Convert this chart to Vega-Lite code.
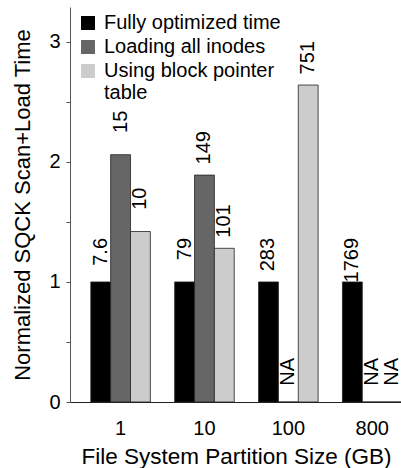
{
  "$schema": "https://vega.github.io/schema/vega-lite/v6.json",
  "width": 332,
  "height": 395,
  "padding": {"left": 11, "top": 7, "right": 0, "bottom": 0},
  "background": "white",
  "config": {
    "view": {"stroke": null},
    "font": "Liberation Sans",
    "axis": {"labelFont": "Liberation Sans", "titleFont": "Liberation Sans", "labelColor": "black", "titleColor": "black", "titleFontWeight": "normal", "grid": false},
    "legend": {"labelFont": "Liberation Sans"},
    "style": {"guide-label": {"lineHeight": 22}}
  },
  "data": {
    "values": [
      {"size": "1", "method": "Fully optimized time", "value": 1, "label": "7.6"},
      {"size": "1", "method": "Loading all inodes", "value": 2.06, "label": "15"},
      {"size": "1", "method": "Using block pointer table", "value": 1.42, "label": "10"},
      {"size": "10", "method": "Fully optimized time", "value": 1, "label": "79"},
      {"size": "10", "method": "Loading all inodes", "value": 1.89, "label": "149"},
      {"size": "10", "method": "Using block pointer table", "value": 1.28, "label": "101"},
      {"size": "100", "method": "Fully optimized time", "value": 1, "label": "283"},
      {"size": "100", "method": "Loading all inodes", "value": 0, "label": "NA"},
      {"size": "100", "method": "Using block pointer table", "value": 2.64, "label": "751"},
      {"size": "800", "method": "Fully optimized time", "value": 1, "label": "1769"},
      {"size": "800", "method": "Loading all inodes", "value": 0, "label": "NA"},
      {"size": "800", "method": "Using block pointer table", "value": 0, "label": "NA"}
    ]
  },
  "encoding": {
    "x": {
      "field": "size", "type": "nominal", "sort": ["1", "10", "100", "800"],
      "scale": {"paddingInner": 0.29, "paddingOuter": 0.124, "align": 1},
      "axis": {"title": "File System Partition Size (GB)", "labelAngle": 0, "ticks": false, "labelFontSize": 20, "titleFontSize": 22.5, "labelPadding": 16, "titlePadding": 7, "domainColor": "#222222", "domainWidth": 1}
    },
    "xOffset": {
      "field": "method", "type": "nominal",
      "sort": ["Fully optimized time", "Loading all inodes", "Using block pointer table"],
      "scale": {"paddingInner": 0, "paddingOuter": 0}
    },
    "y": {
      "field": "value", "type": "quantitative",
      "scale": {"domain": [0, 3.29], "nice": false},
      "axis": {"title": "Normalized SQCK Scan+Load Time", "values": [0, 0.5, 1, 1.5, 2, 2.5, 3], "labelExpr": "datum.value % 1 == 0 ? format(datum.value, 'd') : ''", "labelFontSize": 20, "titleFontSize": 22, "tickSize": 4, "labelPadding": 6, "titlePadding": 14, "domainColor": "#555555", "tickColor": "#555555"}
    }
  },
  "layer": [
    {
      "mark": {"type": "bar", "stroke": "#222222", "strokeWidth": 0.8},
      "encoding": {
        "fill": {
          "field": "method", "type": "nominal",
          "sort": ["Fully optimized time", "Loading all inodes", "Using block pointer table"],
          "scale": {"range": ["#000000", "#666666", "#cccccc"]},
          "legend": {
            "title": null, "orient": "none", "legendX": 8, "legendY": 6,
            "symbolType": "square", "symbolSize": 196, "symbolStrokeWidth": 0, "symbolOpacity": 1,
            "labelFontSize": 20, "labelColor": "black", "labelOffset": 6, "rowPadding": 4, "labelLimit": 400,
            "labelExpr": "datum.label == 'Using block pointer table' ? ['Using block pointer', 'table'] : datum.label"
          }
        }
      }
    },
    {
      "mark": {"type": "text", "angle": 270, "align": "right", "baseline": "middle", "dx": 44, "fontSize": 20, "color": "black"},
      "encoding": {"text": {"field": "label"}}
    }
  ]
}
